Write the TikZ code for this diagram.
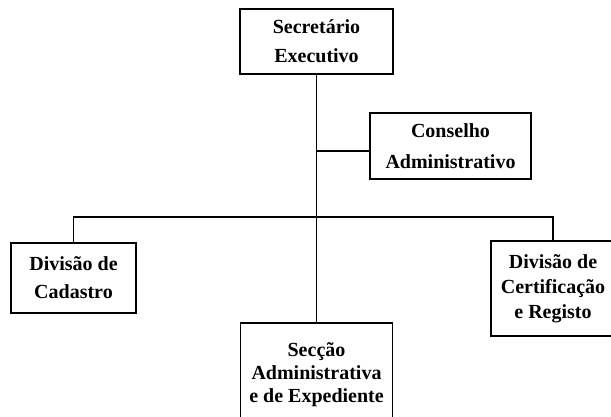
\documentclass[tikz,border=0pt]{standalone}
\usepackage{fontspec}
\setmainfont{Liberation Serif}
\usepackage{tikz}

\begin{document}
\begin{tikzpicture}[
    x=1pt, y=-1pt,
    unit/.style={rectangle, draw, line width=1.6pt, align=center, inner sep=0pt,
                 font=\bfseries\fontsize{20}{27}\selectfont},
    link/.style={line width=1.2pt}
]
\clip (0,0) rectangle (611,416);

% top: Secretario
\node[unit, minimum width=153pt, minimum height=65pt] (exec) at (316.5,41.5)
    {Secretário\\[2pt]Executivo};

% staff unit
\node[unit, minimum width=161pt, minimum height=66pt] (cons) at (450.5,146)
    {Conselho\\[4pt]Administrativo};

% divisions
\node[unit, minimum width=125pt, minimum height=70pt] (cad) at (73.5,278)
    {Divisão de\\[1pt]Cadastro};
\node[unit, minimum width=124pt, minimum height=95pt,
      font=\bfseries\fontsize{20}{25}\selectfont] (cert) at (553,288.5)
    {Divisão de\\Certificação\\e Registo};
\node[unit, minimum width=152pt, minimum height=104pt,
      font=\bfseries\fontsize{20}{23}\selectfont] (sec) at (316.5,375)
    {Secção\\Administrativa\\e de Expediente};

% junction points on the main line
\coordinate (jc) at (316.5,151);
\coordinate (bus) at (316.5,217);

% connectors
\draw[link] (exec.south) -- (sec.north);
\draw[link] (jc) -- (jc -| cons.west);
\draw[link] (cad.north) |- (bus);
\draw[link] (cert.north) |- (bus);

\end{tikzpicture}
\end{document}
